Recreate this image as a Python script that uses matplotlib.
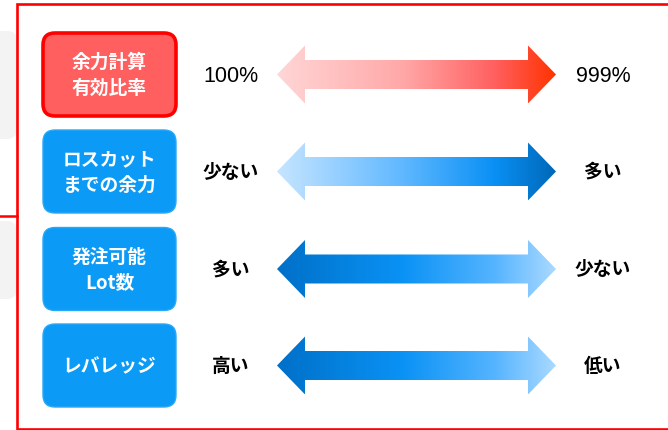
import numpy as np
import matplotlib
matplotlib.use("Agg")
import matplotlib.pyplot as plt
from matplotlib.patches import FancyBboxPatch, Polygon, Rectangle
from matplotlib.colors import LinearSegmentedColormap

plt.rcParams['font.family'] = ['Noto Sans CJK JP', 'DejaVu Sans']

# ---- data ----
metrics = ["余力計算\n有効比率", "ロスカット\nまでの余力", "発注可能\nLot数", "レバレッジ"]
left_labels = ["100%", "少ない", "多い", "高い"]
right_labels = ["999%", "多い", "少ない", "低い"]
box_fill = ["#ff5f5f", "#0b9af5", "#0b9af5", "#0b9af5"]
box_edge = ["#ff0000", "#2aa8f7", "#2aa8f7", "#2aa8f7"]
arrow_grads = [
    ["#ffd6d6", "#ffa8a8", "#ff6060", "#ff3300"],
    ["#c6e5ff", "#60b8ff", "#0a90f5", "#0068b8"],
    ["#0070c8", "#0a92f5", "#55b4ff", "#aad9ff"],
    ["#0070c8", "#0a92f5", "#55b4ff", "#aad9ff"],
]

# ---- layout ----
W, H = 668, 431
fig = plt.figure(figsize=(W / 100, H / 100), dpi=100)
ax = fig.add_axes([0, 0, 1, 1])
ax.set_xlim(0, W)
ax.set_ylim(H, 0)
ax.axis('off')

# background decoration
ax.add_patch(FancyBboxPatch((-20, 32), 37, 108, boxstyle="round,pad=0,rounding_size=10",
                            fc="#f3f3f3", ec="none", zorder=0))
ax.add_patch(FancyBboxPatch((-20, 222), 37, 78, boxstyle="round,pad=0,rounding_size=10",
                            fc="#f3f3f3", ec="none", zorder=0))
ax.plot([0, 17], [217, 217], color="#ff0000", lw=1.8, zorder=2)
# red frame
ax.add_patch(Rectangle((17, 5), W, 425, fc="white", ec="#ff0000", lw=1.9, zorder=1))

row_y = [75.5, 172.5, 270, 366.5]
box_x0, box_x1, box_h = 43, 176, 83
ax_l, ax_r = 277, 556
head_len, head_half, shaft_half = 28, 29, 14.5

for i, yc in enumerate(row_y):
    lw = 2.6 if i == 0 else 1.0
    ax.add_patch(FancyBboxPatch((box_x0, yc - box_h / 2), box_x1 - box_x0, box_h,
                                boxstyle="round,pad=0,rounding_size=12",
                                fc=box_fill[i], ec=box_edge[i], lw=lw, zorder=3))
    ax.text((box_x0 + box_x1) / 2, yc, metrics[i], ha='center', va='center',
            color='white', fontsize=13.5, fontweight='bold', linespacing=1.45, zorder=4)

    is_num = left_labels[i].endswith('%')
    kw = dict(fontsize=15.5, family=['Liberation Sans', 'DejaVu Sans']) if is_num else dict(fontsize=13.5, fontweight='bold')
    ax.text(231, yc + (1 if is_num else 0), left_labels[i], ha='center', va='center', color='black', zorder=4, **kw)
    ax.text(603, yc + (1 if is_num else 0), right_labels[i], ha='center', va='center', color='black', zorder=4, **kw)

    # double arrow with gradient
    pts = [(ax_l, yc), (ax_l + head_len, yc - head_half), (ax_l + head_len, yc - shaft_half),
           (ax_r - head_len, yc - shaft_half), (ax_r - head_len, yc - head_half), (ax_r, yc),
           (ax_r - head_len, yc + head_half), (ax_r - head_len, yc + shaft_half),
           (ax_l + head_len, yc + shaft_half), (ax_l + head_len, yc + head_half)]
    poly = Polygon(pts, closed=True, fc='none', ec='none', zorder=3)
    ax.add_patch(poly)
    cmap = LinearSegmentedColormap.from_list(f"g{i}", list(zip([0, 0.45, 0.78, 1.0], arrow_grads[i])))
    grad = np.linspace(0, 1, 256).reshape(1, -1)
    im = ax.imshow(grad, cmap=cmap, extent=[ax_l, ax_r, yc + head_half, yc - head_half],
                   aspect='auto', zorder=3, interpolation='bilinear')
    im.set_clip_path(poly)

ax.set_xlim(0, W)
ax.set_ylim(H, 0)
fig.savefig("out.png", dpi=100)
